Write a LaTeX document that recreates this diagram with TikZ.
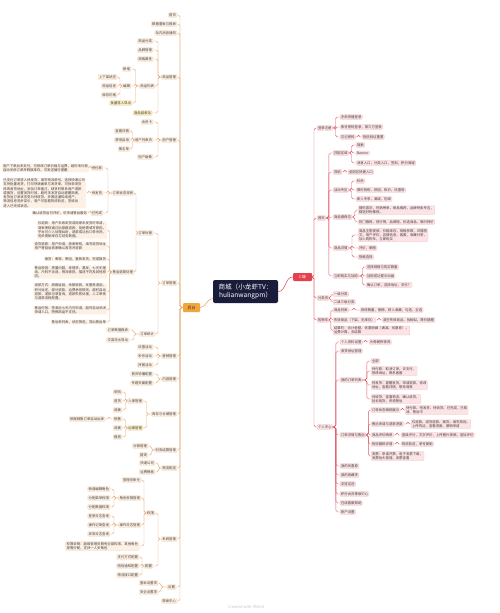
\documentclass[tikz,border=0pt]{standalone}
\usepackage{fontspec}
\newfontfamily\cjk{Noto Sans CJK SC}
\usetikzlibrary{calc}
\definecolor{rfill}{HTML}{FCE3E5}
\definecolor{rdraw}{HTML}{F3B4BA}
\definecolor{rline}{HTML}{E35866}
\definecolor{cred}{HTML}{E4404E}
\definecolor{lfill}{HTML}{FDF1E6}
\definecolor{ldraw}{HTML}{F1CFA8}
\definecolor{lline}{HTML}{E8AE78}
\definecolor{hfill}{HTML}{F2A53B}
\definecolor{yfill}{HTML}{FCEFC0}
\definecolor{navy}{HTML}{191C3A}
\tikzset{
  base/.style={font=\cjk\fontsize{3.4}{4.25}\selectfont, inner xsep=0.9pt, inner ysep=0.7pt,
    rounded corners=0.8pt, align=left, text=black!75, line width=0.2pt},
  R/.style={base, fill=rfill, draw=rdraw, anchor=west},
  L/.style={base, fill=lfill, draw=ldraw, anchor=east},
  LB/.style={base, fill=lfill, draw=none, anchor=east},
  Y/.style={fill=yfill},
  rl/.style={draw=rline, line width=0.45pt, rounded corners=1.8pt},
  ll/.style={draw=lline, line width=0.45pt, rounded corners=1.8pt},
  mainbox/.style={fill=navy, text=white, font=\cjk\fontsize{6.6}{8.6}\selectfont, align=center,
    rounded corners=2pt, minimum width=65pt, minimum height=23pt, inner sep=1pt},
  cbox/.style={fill=cred, text=white, font=\cjk\fontsize{4}{5}\selectfont, rounded corners=1pt,
    minimum width=19pt, minimum height=8pt, inner sep=0.5pt},
  hbox/.style={fill=hfill, text=black!80, font=\cjk\fontsize{4}{5}\selectfont, rounded corners=1pt,
    minimum width=17pt, minimum height=9pt, inner sep=0.5pt},
}
\newcommand\rc[3]{\draw[rl] let \p1=(#1.east) in (\p1) -- (#3pt,\y1) |- (#2.west);}
\newcommand\lc[3]{\draw[ll] let \p1=(#1.west) in (\p1) -- (#3pt,\y1) |- (#2.east);}
\newcommand\rcs[3]{\foreach \cc in {#2}{\rc{#1}{\cc}{#3}}}
\newcommand\lcs[3]{\foreach \cc in {#2}{\lc{#1}{\cc}{#3}}}
\begin{document}
\begin{tikzpicture}[x=1pt,y=-1pt]
\fill[white] (0,0) rectangle (500,613);
\useasboundingbox (0,0) rectangle (500,613);

% centre
\node[mainbox] (M) at (245.5,291.5) {商城（小龙虾TV：\\hulianwangpm）};
\node[cbox] (C) at (302.5,277) {C端};
\node[hbox] (HT) at (191.5,307.5) {后台};
\draw[rl,line width=0.6pt] (M.east) to[out=0,in=180] (C.west);
\draw[ll,line width=0.6pt] ([yshift=-7pt]M.west) to[out=180,in=0] (HT.east);

% ---------------- right side ----------------
\node[R] (R1) at (317,128) {登录注册};
\node[R] (R1a) at (340,117) {手机快捷登录};
\node[R] (R1b) at (340,127) {账号密码登录，第三方登录};
\node[R] (R1c) at (340,137) {忘记密码};
\node[R] (R1c1) at (362,137) {短信验证重置};

\node[R] (R2) at (317,218) {首页};
\node[R] (Rc1) at (333,153) {顶部区域};
\node[R] (Rc1a) at (356,145) {搜索};
\node[R] (Rc1b) at (356,153) {Banner};
\node[R] (Rc1c) at (356,163) {消息入口，分类入口，签到，积分商城};
\node[R] (Rc2) at (333,172) {导航};
\node[R] (Rc2a) at (348,172) {金刚区快捷入口};
\node[R] (Rc3) at (333,190) {活动专区};
\node[R] (Rc3a) at (356,181) {秒杀};
\node[R] (Rc3b) at (356,190) {限时抢购，拼团，砍价，优惠券};
\node[R] (Rc3c) at (356,199) {新人专享，满减，包邮};
\node[R] (Rc4) at (333,217) {商品推荐位};
\node[R] (Rc4a) at (358,210) {猜你喜欢，热销榜单，新品推荐，品牌特卖专区，\\精选好物推荐。};
\node[R] (Rc4b) at (358,222) {热门推荐，排行榜，品牌馆，优选商品，限时特价};
\node[R] (Rc5) at (333,248) {商品详情};
\node[R] (Rc5a) at (358,235) {商品主图视频，价格库存，规格参数，详情图\\文，用户评价，店铺信息，客服，收藏分享，\\加入购物车，立即购买};
\node[R] (Rc5b) at (358,248) {评价，晒图};
\node[R] (Rc5c) at (358,257) {规格选择};
\node[R] (Rc6) at (333,276) {立即购买与加购};
\node[R] (Rc6a) at (366,267) {选择规格与购买数量};
\node[R] (Rc6b) at (366,276) {加购成功提示动画};
\node[R] (Rc6c) at (366,285) {确认订单，选择地址，支付？};

\node[R] (R3) at (317,298) {分类页};
\node[R] (R3a) at (333,294) {一级分类};
\node[R] (R3b) at (333,302) {二级三级分类};

\node[R] (R4) at (317,320) {购物车};
\node[R] (R4a) at (333,310) {商品列表};
\node[R] (R4a1) at (360,310) {修改数量，删除，移入收藏，勾选，全选};
\node[R] (R4b) at (333,320) {失效商品（下架，无库存）};
\node[R] (R4b1) at (382,320) {清空失效商品，找相似，降价提醒};
\node[R] (R4c) at (333,330.5) {结算栏：合计金额，优惠明细（满减、优惠券），\\运费计算，去结算};

\node[R] (R5) at (317,427) {个人中心};
\node[R] (R5a) at (340,342) {个人资料设置};
\node[R] (R5a1) at (369,342) {头像昵称修改};
\node[R] (R5b) at (340,351) {收货地址管理};
\node[R] (R5c) at (340,380) {我的订单列表};
\node[R] (R5c1) at (371,361) {全部};
\node[R] (R5c2) at (371,371) {待付款：取消订单，去支付，\\修改地址，联系客服};
\node[R] (R5c3) at (371,385) {待发货：提醒发货，申请退款，修改\\地址，查看详情，联系商家};
\node[R] (R5c4) at (371,399) {待收货：查看物流，确认收货，\\延长收货，申请售后};
\node[R] (R5d) at (340,435) {订单详情与售后};
\node[R] (R5d1) at (371,410) {订单状态跟踪展示};
\node[R] (R5d1a) at (405,410) {待付款、待发货、待收货、已完成、已取\\消、售后中};
\node[R] (R5d2) at (371,424) {售后申请与退款进度};
\node[R] (R5d2a) at (411,424) {仅退款、退货退款、换货，填写原因，\\上传凭证、查看进度、撤销申请};
\node[R] (R5d3) at (371,435) {商品评价晒单};
\node[R] (R5d3a) at (401,435) {星级评分，文字评价，上传图片视频，追加评价};
\node[R] (R5d4) at (371,444) {物流跟踪详情};
\node[R] (R5d4a) at (401,444) {物流轨迹，单号复制};
\node[R] (R5d5) at (371,456) {发票：申请开票，电子发票下载，\\发票抬头管理，发票查看};
\node[R] (R5e) at (340,466) {我的优惠券};
\node[R] (R5f) at (340,475) {我的收藏夹};
\node[R] (R5g) at (340,484) {浏览足迹};
\node[R] (R5h) at (340,494) {积分会员等级中心};
\node[R] (R5i) at (340,503) {在线客服帮助};
\node[R] (R5j) at (340,512) {账户设置};

\rcs{C}{R1,R2,R3,R4,R5}{314}
\rcs{R1}{R1a,R1b,R1c}{335.5}
\rc{R1c}{R1c1}{358.5}
\rcs{R2}{Rc1,Rc2,Rc3,Rc4,Rc5,Rc6}{328.8}
\rcs{Rc1}{Rc1a,Rc1b,Rc1c}{351.5}
\rc{Rc2}{Rc2a}{345}
\rcs{Rc3}{Rc3a,Rc3b,Rc3c}{351.5}
\rcs{Rc4}{Rc4a,Rc4b}{354.8}
\rcs{Rc5}{Rc5a,Rc5b,Rc5c}{352}
\rcs{Rc6}{Rc6a,Rc6b,Rc6c}{362.5}
\rcs{R3}{R3a,R3b}{330.8}
\rcs{R4}{R4a,R4b,R4c}{330.8}
\rc{R4a}{R4a1}{354}
\rc{R4b}{R4b1}{379}
\rcs{R5}{R5a,R5b,R5c,R5d,R5e,R5f,R5g,R5h,R5i,R5j}{335.8}
\rc{R5a}{R5a1}{365.5}
\rcs{R5c}{R5c1,R5c2,R5c3,R5c4}{366.8}
\rcs{R5d}{R5d1,R5d2,R5d3,R5d4,R5d5}{368.3}
\rc{R5d1}{R5d1a}{402.5}
\rc{R5d2}{R5d2a}{408}
\rc{R5d3}{R5d3a}{397}
\rc{R5d4}{R5d4a}{397}

% ---------------- left side ----------------
\node[L] (L1) at (177,15) {首页};
\node[L] (L2) at (177,24) {数据看板与报表};
\node[L] (L3) at (177,33) {站内消息通知};

\node[L] (L4) at (177,77) {商品管理};
\node[L] (L4a) at (153,41) {商品分类};
\node[L] (L4b) at (153,50) {品牌管理};
\node[L] (L4c) at (153,59) {规格属性};
\node[L] (L4d) at (155,86) {商品列表};
\node[L] (L4d1) at (131,69) {新增};
\node[L] (L4d2) at (131,86) {编辑};
\node[L] (L4d2a) at (117,77) {上下架状态};
\node[L] (L4d2b) at (117,86) {商品信息};
\node[L] (L4d2c) at (117,95) {库存价格};
\node[L,Y] (L4d3) at (132,103) {批量导入导出};
\node[L,Y] (L4e) at (152,113) {商品回收站};

\node[L] (L5) at (177,140) {用户管理};
\node[L] (L5a) at (153,122) {会员卡};
\node[L] (L5b) at (153,140) {用户列表页};
\node[L] (L5b1) at (130,131) {查看详情};
\node[L] (L5b2) at (130,140) {禁用启用};
\node[L] (L5b3) at (130,149) {黑名单};
\node[L] (L5c) at (153,157) {用户画像};

\node[L] (L6) at (177,283) {订单管理};
\node[L] (L6a) at (153,233) {订单处理};
\node[L] (L6a1) at (134,193) {订单状态流转};
\node[L] (L6a1a) at (103,168) {待付款};
\node[LB] (B1) at (89,168) {用户下单后未支付，可修改订单价格与运费，超时未付款\\自动关闭订单并释放库存，可发送催付提醒};
\node[L] (L6a1b) at (103,193) {待发货};
\node[LB] (B2) at (86,193) {已支付订单进入待发货，填写物流单号，选择快递公司\\支持批量发货，打印快递面单与发货单，可拆单发货\\修改收货地址，添加订单备注，缺货时联系用户退款\\或换货，设置发货时效，超时未发货自动提醒商家，\\发货后订单状态变为待收货，并推送通知给用户，\\物流信息同步显示，用户可查看物流轨迹，签收后\\进入已完成状态。};
\node[L] (L6a1c) at (103,213) {已完成};
\node[LB] (B3) at (88,213) {确认收货后可评价，可申请售后服务};
\node[L] (L6a2) at (134,272) {售后退款处理};
\node[LB] (B4) at (107,230) {仅退款：用户未收到货或商家未发货时申请，\\商家审核通过后原路退款，拒绝需填写原因，\\平台可介入处理纠纷，退款成功后订单关闭，\\同步更新库存与财务数据。};
\node[LB] (B5) at (107,246) {退货退款：用户申请，商家审核，填写退货地址\\用户寄回后商家确认收货并退款};
\node[LB] (B6) at (107,259) {换货：审核，寄回，重新发货，完成换货};
\node[LB] (B7) at (107,272) {售后原因：质量问题，发错货，漏发，七天无理\\由，尺码不合适，物流破损，描述不符及其他原\\因。};
\node[LB] (B8) at (107,292) {退款方式：原路返回，余额退款，优惠券退回，\\积分返还，部分退款，运费承担规则，超时自动\\退款，退款记录查询，退款失败处理，人工审核\\与退款流程配置。};
\node[LB] (B9) at (107,310) {售后时效：签收后七天内可申请，超时自动关闭\\申请入口，特殊商品不支持。};
\node[LB] (B10) at (107,322) {售后单列表，状态筛选，导出售后单};
\node[L] (L6b) at (155,334) {订单统计};
\node[L] (L6b1) at (129,330) {订单数据报表};
\node[L] (L6b2) at (129,340) {交易流水导出};

\node[L] (L7) at (177,356) {营销管理};
\node[L] (L7a) at (153,347) {优惠活动};
\node[L] (L7b) at (153,356) {秒杀活动};
\node[L] (L7c) at (153,365) {拼团活动};

\node[L] (L8) at (177,379) {内容管理};
\node[L] (L8a) at (153,374) {首页轮播配置};
\node[L] (L8b) at (153,383) {专题页面配置};

\node[L] (L9) at (177,414) {库存与仓储管理};
\node[L] (L9a) at (143,401) {入库管理};
\node[L] (L9a1) at (122,392) {采购};
\node[L] (L9a2) at (122,401) {退货};
\node[L] (L9a3) at (122,410) {调拨};
\node[L,Y] (L9b) at (143,428) {出库管理};
\node[L] (L9b1) at (122,419) {销售};
\node[L] (L9b1a) at (105,419) {依据销售订单自动出库};
\node[L] (L9b2) at (122,428) {调拨};
\node[L] (L9b3) at (122,437) {报损};

\node[L] (L10) at (177,450) {财务结算管理};
\node[L] (L10a) at (148,446) {对账管理};
\node[L] (L10b) at (148,455) {提现};

\node[L] (L11) at (177,468) {物流配送};
\node[L] (L11a) at (155,463) {快递公司};
\node[L] (L11b) at (155,472) {运费模板};

\node[L] (L12) at (177,539) {系统管理};
\node[L] (L12a) at (155,513) {权限};
\node[L] (L12a1) at (141,480) {管理员账号};
\node[L] (L12a2) at (141,498) {角色权限管理};
\node[L] (L12a2a) at (110,489) {新增编辑角色};
\node[L] (L12a2b) at (110,498) {分配菜单权限};
\node[L] (L12a2c) at (110,507) {分配数据权限};
\node[L] (L12a3) at (141,525) {操作日志管理};
\node[L] (L12a3a) at (110,516) {登录日志查询};
\node[L] (L12a3b) at (110,525) {操作记录查询};
\node[L] (L12a3c) at (110,534) {异常日志查询};
\node[L] (L12a4) at (139,546) {权限说明：超级管理员拥有全部权限，其他角色\\按需分配，支持一人多角色};
\node[L] (L12b) at (153,566) {配置};
\node[L] (L12b1) at (139,557) {支付方式配置};
\node[L] (L12b2) at (139,566) {短信通知配置};
\node[L] (L12b3) at (139,575) {物流接口配置};

\node[L] (L13) at (176,587) {设置};
\node[L] (L13a) at (158,583) {基本设置项};
\node[L] (L13b) at (158,592) {安全设置项};
\node[L] (L14) at (177,601) {帮助中心};

\lcs{HT}{L1,L2,L3,L4,L5,L6,L7,L8,L9,L10,L11,L12,L13,L14}{180}
\lcs{L4}{L4a,L4b,L4c,L4d,L4e}{158}
\lcs{L4d}{L4d1,L4d2,L4d3}{135.5}
\lcs{L4d2}{L4d2a,L4d2b,L4d2c}{120}
\lcs{L5}{L5a,L5b,L5c}{158}
\lcs{L5b}{L5b1,L5b2,L5b3}{132.5}
\lcs{L6}{L6a,L6b}{158}
\lcs{L6a}{L6a1,L6a2}{136}
\lcs{L6a1}{L6a1a,L6a1b,L6a1c}{108}
\lc{L6a1a}{B1}{90}
\lc{L6a1b}{B2}{89}
\lc{L6a1c}{B3}{90}
\lcs{L6a2}{B4,B5,B6,B7,B8,B9,B10}{109.5}
\lcs{L6b}{L6b1,L6b2}{134}
\lcs{L7}{L7a,L7b,L7c}{158}
\lcs{L8}{L8a,L8b}{158}
\lcs{L9}{L9a,L9b}{146.5}
\lcs{L9a}{L9a1,L9a2,L9a3}{125.5}
\lcs{L9b}{L9b1,L9b2,L9b3}{125.5}
\lc{L9b1}{L9b1a}{109}
\lcs{L10}{L10a,L10b}{151.5}
\lcs{L11}{L11a,L11b}{158.5}
\lcs{L12}{L12a,L12b}{158}
\lcs{L12a}{L12a1,L12a2,L12a3,L12a4}{144}
\lcs{L12a2}{L12a2a,L12a2b,L12a2c}{114}
\lcs{L12a3}{L12a3a,L12a3b,L12a3c}{114}
\lcs{L12b}{L12b1,L12b2,L12b3}{142}
\lcs{L13}{L13a,L13b}{161}

\node[font=\cjk\fontsize{4}{5}\selectfont, text=black!22] (wm) at (246,607) {Created with XMind};
\end{tikzpicture}
\end{document}
